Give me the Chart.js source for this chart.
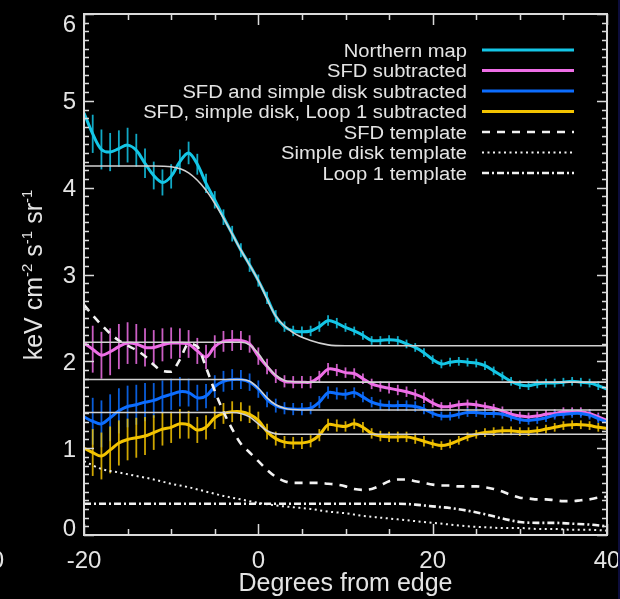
<!DOCTYPE html>
<html><head><meta charset="utf-8">
<script src="https://cdn.jsdelivr.net/npm/chart.js@4.4.1/dist/chart.umd.min.js"></script>
<style>html,body{margin:0;padding:0;background:#000;overflow:hidden}</style>
</head><body>
<canvas id="c" width="620" height="599"></canvas>
<script>
// ---------- data ----------
const degrees = [-20,-19,-18,-17,-16,-15,-14,-13,-12,-11,-10,-9,-8,-7,-6,-5,-4,-3,-2,-1,
  0,1,2,3,4,5,6,7,8,9,10,11,12,13,14,15,16,17,18,19,20,21,22,23,24,25,26,27,28,29,
  30,31,32,33,34,35,36,37,38,39,40];

const northernMap = [4.86,4.62,4.44,4.41,4.45,4.49,4.43,4.28,4.14,4.06,
  4.13,4.30,4.40,4.27,4.05,3.86,3.66,3.47,3.28,3.11,
  2.93,2.73,2.52,2.40,2.35,2.34,2.35,2.40,2.47,2.44,
  2.39,2.35,2.30,2.24,2.24,2.25,2.24,2.20,2.16,2.10,
  2.02,1.97,1.99,2.00,1.99,1.98,1.95,1.89,1.83,1.77,
  1.73,1.72,1.74,1.75,1.75,1.76,1.77,1.76,1.75,1.72,
  1.68];
const northernErr = [0.21,0.22,0.23,0.22,0.21,0.20,0.19,0.17,0.16,0.15,
  0.14,0.14,0.13,0.12,0.11,0.10,0.09,0.09,0.08,0.08,
  0.07,0.07,0.07,0.06,0.06,0.06,0.06,0.06,0.06,0.06,
  0.05,0.05,0.05,0.05,0.05,0.05,0.05,0.05,0.05,0.05,
  0.05,0.05,0.05,0.05,0.05,0.05,0.05,0.05,0.05,0.05,
  0.05,0.05,0.05,0.05,0.05,0.05,0.05,0.05,0.05,0.05,
  0.05];

const sfdSubtracted = [2.21,2.14,2.07,2.11,2.17,2.21,2.20,2.16,2.16,2.19,
  2.21,2.21,2.20,2.12,2.05,2.17,2.23,2.24,2.24,2.20,
  2.06,1.94,1.83,1.77,1.76,1.76,1.76,1.82,1.91,1.90,
  1.87,1.86,1.80,1.74,1.71,1.69,1.67,1.65,1.62,1.58,
  1.52,1.48,1.48,1.50,1.51,1.50,1.48,1.46,1.43,1.39,
  1.37,1.36,1.37,1.39,1.40,1.42,1.42,1.42,1.40,1.36,
  1.32];
const sfdDiskSubtracted = [1.36,1.31,1.28,1.35,1.43,1.48,1.50,1.53,1.55,1.59,
  1.62,1.65,1.64,1.58,1.60,1.71,1.77,1.79,1.79,1.76,
  1.68,1.56,1.49,1.46,1.45,1.45,1.46,1.53,1.64,1.63,
  1.62,1.64,1.59,1.53,1.50,1.49,1.49,1.49,1.48,1.45,
  1.40,1.37,1.37,1.39,1.41,1.41,1.40,1.40,1.39,1.36,
  1.33,1.32,1.33,1.35,1.38,1.39,1.40,1.40,1.38,1.34,
  1.30];
const sfdDiskLoopSubtracted = [1.00,0.95,0.91,0.98,1.06,1.10,1.12,1.14,1.18,1.22,
  1.24,1.28,1.27,1.21,1.24,1.35,1.40,1.42,1.42,1.39,
  1.32,1.19,1.11,1.07,1.06,1.06,1.08,1.15,1.27,1.26,
  1.25,1.28,1.24,1.17,1.14,1.13,1.13,1.13,1.11,1.08,
  1.05,1.03,1.05,1.09,1.13,1.16,1.18,1.19,1.20,1.20,
  1.19,1.19,1.20,1.22,1.24,1.26,1.27,1.27,1.26,1.24,
  1.23];
const subtractedErr = [0.26,0.27,0.27,0.27,0.26,0.24,0.23,0.22,0.20,0.19,
  0.18,0.17,0.16,0.15,0.14,0.13,0.12,0.12,0.11,0.10,
  0.10,0.09,0.08,0.07,0.07,0.07,0.07,0.07,0.07,0.07,
  0.06,0.06,0.06,0.06,0.06,0.06,0.06,0.06,0.06,0.06,
  0.05,0.05,0.05,0.05,0.05,0.05,0.05,0.05,0.05,0.05,
  0.05,0.05,0.05,0.05,0.05,0.05,0.05,0.05,0.05,0.05,
  0.05];

const sfdTemplate = [2.65,2.53,2.42,2.32,2.24,2.18,2.13,2.06,1.96,1.89,
  1.88,2.02,2.20,2.17,1.93,1.66,1.42,1.22,1.05,0.95,
  0.85,0.75,0.67,0.62,0.60,0.60,0.60,0.60,0.59,0.58,
  0.56,0.53,0.52,0.53,0.57,0.62,0.64,0.64,0.62,0.60,
  0.58,0.57,0.57,0.56,0.56,0.56,0.55,0.53,0.50,0.46,
  0.43,0.42,0.41,0.41,0.40,0.39,0.39,0.40,0.41,0.43,
  0.44];

const templateX = [-20,-18,-16,-14,-12,-10,-8,-6,-4,-2,0,2,4,6,8,10,12,14,16,18,20,22,24,26,28,30,32,34,36,38,40];
const diskTemplate = [0.85,0.76,0.72,0.68,0.64,0.59,0.55,0.50,0.45,0.41,0.37,0.34,0.32,0.30,0.27,0.25,
  0.22,0.20,0.18,0.16,0.14,0.12,0.10,0.09,0.08,0.08,0.07,0.07,0.06,0.06,0.05];
const loopTemplate = [0.36,0.36,0.36,0.36,0.36,0.36,0.36,0.36,0.36,0.36,0.36,0.36,0.36,0.36,0.36,0.36,
  0.36,0.36,0.36,0.35,0.33,0.31,0.28,0.24,0.19,0.15,0.14,0.14,0.13,0.12,0.10];

// fitted step models (white lines)
const northModelX = [-20,-12,-10,-8,-6,-4,-2,0,2,4,6,8,10,40];
const northModel  = [4.25,4.25,4.24,4.17,3.97,3.65,3.28,2.93,2.52,2.33,2.24,2.19,2.18,2.18];
const stepModelX  = [-20,-3,-2,-1,0,1,2,3,4,5,40];
const sfdModel      = [2.22,2.22,2.22,2.19,2.09,1.95,1.84,1.78,1.765,1.76,1.76];
const sfdDiskModel  = [1.79,1.79,1.79,1.77,1.69,1.58,1.50,1.46,1.445,1.44,1.44];
const sfdDiskLoopModel = [1.41,1.41,1.40,1.36,1.28,1.20,1.165,1.16,1.16,1.16,1.16];

const xTickLabels = [-20, 0, 20, 40];
const yTickLabels = [0, 1, 2, 3, 4, 5, 6];
const legendOrder = ['Northern map','SFD subtracted','SFD and simple disk subtracted',
  'SFD, simple disk, Loop 1 subtracted','SFD template','Simple disk template','Loop 1 template'];

// ---------- chart ----------
const FONT = '"Liberation Sans", Arial, Helvetica, sans-serif';
const TXT = '#e4e4e4';
const pts = (xs, ys) => xs.map((v, i) => ({x: v, y: ys[i]}));

const modelStyle = {borderColor:'#d2d2d2', borderWidth:1.6, cubicInterpolationMode:'monotone', pointRadius:0, order:0};
const tmplStyle = {borderColor:'#f2f2f2', cubicInterpolationMode:'monotone', pointRadius:0, order:1};

const datasets = [
  Object.assign({data: pts(northModelX, northModel)}, modelStyle),
  Object.assign({data: pts(stepModelX, sfdModel)}, modelStyle),
  Object.assign({data: pts(stepModelX, sfdDiskModel)}, modelStyle),
  Object.assign({data: pts(stepModelX, sfdDiskLoopModel)}, modelStyle),
  Object.assign({label:'SFD template', data: pts(degrees, sfdTemplate), borderWidth:2.6, borderDash:[8,7]}, tmplStyle),
  Object.assign({label:'Simple disk template', data: pts(templateX, diskTemplate), borderWidth:2, borderDash:[2,3.5]}, tmplStyle),
  Object.assign({label:'Loop 1 template', data: pts(templateX, loopTemplate), borderWidth:2.6, borderDash:[7,3,2,3]}, tmplStyle),
  {label:'Northern map', data: pts(degrees, northernMap), errors: northernErr, borderColor:'#14c6e6', borderWidth:3, tension:0.35, pointRadius:0, order:5},
  {label:'SFD subtracted', data: pts(degrees, sfdSubtracted), errors: subtractedErr, borderColor:'#ee6ee6', borderWidth:3, tension:0.35, pointRadius:0, order:4},
  {label:'SFD and simple disk subtracted', data: pts(degrees, sfdDiskSubtracted), errors: subtractedErr, borderColor:'#0c6dff', borderWidth:3, tension:0.35, pointRadius:0, order:3},
  {label:'SFD, simple disk, Loop 1 subtracted', data: pts(degrees, sfdDiskLoopSubtracted), errors: subtractedErr, borderColor:'#f3c300', borderWidth:3, tension:0.35, pointRadius:0, order:2}
];

const bgPlugin = {
  id:'bg',
  beforeDraw(chart){
    const c = chart.ctx; c.save(); c.fillStyle = '#000'; c.fillRect(0,0,chart.width,chart.height); c.restore();
  }
};

const errorBarPlugin = {
  id:'errorBars',
  beforeDatasetsDraw(chart){
    const {ctx, chartArea:a, scales:{x, y}} = chart;
    ctx.save();
    ctx.beginPath(); ctx.rect(a.left, a.top, a.right - a.left, a.bottom - a.top); ctx.clip();
    const list = chart.data.datasets.filter(d => d.errors).sort((p, q) => q.order - p.order);
    list.forEach(ds => {
      ctx.strokeStyle = ds.borderColor; ctx.lineWidth = 1.8; ctx.globalAlpha = 0.85;
      ds.data.forEach((p, i) => {
        const px = x.getPixelForValue(p.x);
        ctx.beginPath();
        ctx.moveTo(px, y.getPixelForValue(p.y - ds.errors[i]));
        ctx.lineTo(px, y.getPixelForValue(p.y + ds.errors[i]));
        ctx.stroke();
      });
    });
    ctx.restore();
  }
};

const framePlugin = {
  id:'frame',
  afterDraw(chart){
    const {ctx, chartArea:a, scales:{x, y}} = chart;
    ctx.save();
    // frame
    ctx.strokeStyle = '#dadada'; ctx.lineWidth = 2;
    ctx.strokeRect(a.left, a.top, a.right - a.left, a.bottom - a.top);
    ctx.lineWidth = 1.5;
    // x ticks (major every 20, minor every 5), bottom and top, pointing inward
    for (let v = x.min; v <= x.max + 1e-9; v += 5) {
      const px = Math.round(x.getPixelForValue(v)) + 0.5;
      const len = xTickLabels.includes(v) ? 11 : 6;
      ctx.beginPath();
      ctx.moveTo(px, a.bottom); ctx.lineTo(px, a.bottom - len);
      ctx.moveTo(px, a.top); ctx.lineTo(px, a.top + len);
      ctx.stroke();
    }
    // y ticks (major every 1, minor every 0.1), left and right
    for (let k = 0; k <= 60; k++) {
      const v = k / 10;
      const py = Math.round(y.getPixelForValue(v)) + 0.5;
      const len = (k % 10 === 0) ? 10 : 5;
      ctx.beginPath();
      ctx.moveTo(a.left, py); ctx.lineTo(a.left + len, py);
      ctx.moveTo(a.right, py); ctx.lineTo(a.right - len, py);
      ctx.stroke();
    }
    // tick labels
    ctx.fillStyle = TXT;
    ctx.font = '24px ' + FONT;
    ctx.textAlign = 'center'; ctx.textBaseline = 'alphabetic';
    xTickLabels.forEach(v => ctx.fillText(String(v), x.getPixelForValue(v), a.bottom + 33));
    ctx.textAlign = 'right';
    yTickLabels.forEach(v => {
      let cy = y.getPixelForValue(v);
      cy = Math.min(Math.max(cy, a.top + 9.5), a.bottom - 7.5);
      ctx.fillText(String(v), a.left - 8, cy + 8.5);
    });
    // partial label from neighbouring panel at far left
    ctx.fillText('0', 4, a.bottom + 33);
    // x title
    ctx.textAlign = 'center';
    ctx.font = '25px ' + FONT;
    ctx.fillText('Degrees from edge', (a.left + a.right) / 2, 591);
    // y title with superscripts
    ctx.save();
    ctx.translate(42, 275);
    ctx.rotate(-Math.PI / 2);
    const parts = [['keV cm', 0], ['-2', 1], [' s', 0], ['-1', 1], [' sr', 0], ['-1', 1]];
    const big = '25px ' + FONT, small = '15px ' + FONT;
    let total = 0;
    parts.forEach(p => { ctx.font = p[1] ? small : big; total += ctx.measureText(p[0]).width; });
    let cx = -total / 2;
    ctx.textAlign = 'left';
    parts.forEach(p => {
      ctx.font = p[1] ? small : big;
      ctx.fillText(p[0], cx, p[1] ? -10 : 0);
      cx += ctx.measureText(p[0]).width;
    });
    ctx.restore();
    // legend
    const lx0 = 482, lx1 = 574, textRight = 467, rowY0 = 50, rowStep = 20.5;
    legendOrder.forEach((lab, i) => {
      const ds = chart.data.datasets.find(d => d.label === lab);
      const ry = rowY0 + i * rowStep;
      ctx.save();
      ctx.translate(textRight, ry + 6.5);
      ctx.scale(1.12, 1);
      ctx.font = '18px ' + FONT; ctx.fillStyle = TXT; ctx.textAlign = 'right';
      ctx.fillText(lab, 0, 0);
      ctx.restore();
      ctx.save();
      ctx.strokeStyle = ds.borderColor; ctx.lineWidth = ds.borderWidth;
      ctx.setLineDash(ds.borderDash || []);
      ctx.beginPath(); ctx.moveTo(lx0, ry); ctx.lineTo(lx1, ry); ctx.stroke();
      ctx.restore();
    });
    // thin dark edge at the right border of the image
    ctx.fillStyle = '#0c0c3c';
    ctx.fillRect(618, 0, 2, chart.height);
    ctx.restore();
  }
};

new Chart(document.getElementById('c'), {
  type: 'line',
  data: {datasets},
  options: {
    responsive: false,
    animation: false,
    devicePixelRatio: 1,
    layout: {padding: {left: 84, right: 13, top: 14, bottom: 64}},
    scales: {
      x: {type: 'linear', min: -20, max: 40, display: false},
      y: {type: 'linear', min: 0, max: 6, display: false}
    },
    plugins: {legend: {display: false}, tooltip: {enabled: false}},
    elements: {point: {radius: 0}, line: {borderCapStyle: 'butt'}}
  },
  plugins: [bgPlugin, errorBarPlugin, framePlugin]
});
</script>
</body></html>
